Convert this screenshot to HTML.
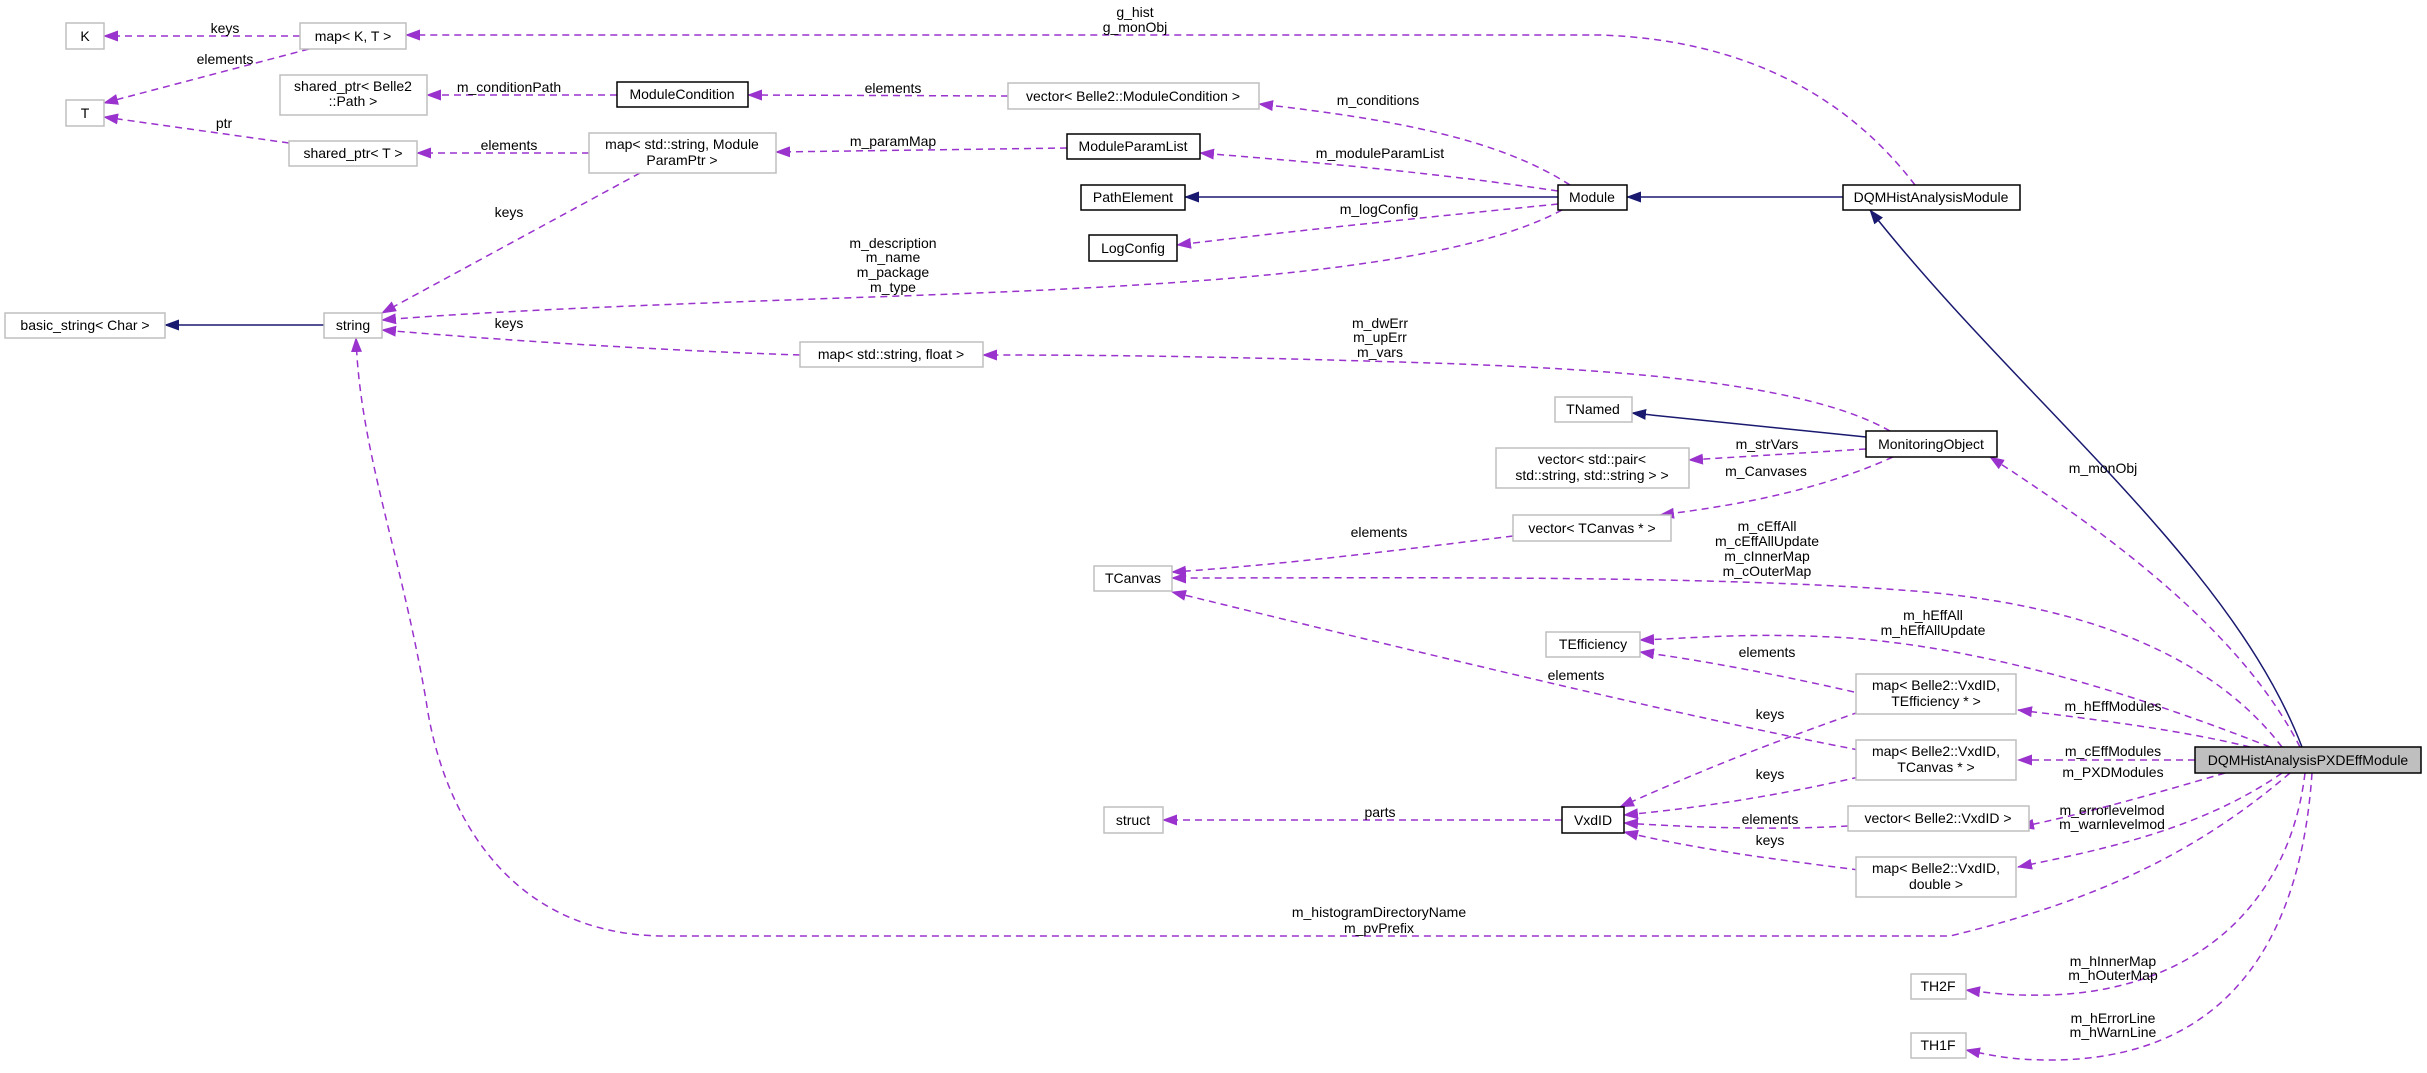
<!DOCTYPE html>
<html><head><meta charset="utf-8"><style>
html,body{margin:0;padding:0;background:#fff;}
svg{display:block;}
text{font-family:"Liberation Sans","DejaVu Sans",sans-serif;font-size:14px;fill:#000;}
.g{fill:#fff;stroke:#bfbfbf;stroke-width:1.5}
.b{fill:#fff;stroke:#000;stroke-width:1.5}
.p{fill:none;stroke:#9a32cd;stroke-width:1.5;stroke-dasharray:7,5;marker-end:url(#mp)}
.n{fill:none;stroke:#191970;stroke-width:1.5;marker-end:url(#mn)}
</style></head><body>
<svg width="2427" height="1073" viewBox="0 0 2427 1073" xmlns="http://www.w3.org/2000/svg">
<defs>
<marker id="mp" markerUnits="userSpaceOnUse" markerWidth="15" markerHeight="11" refX="14" refY="5.5" orient="auto"><path d="M0,0 L15,5.5 L0,11 z" fill="#9a32cd"/></marker>
<marker id="mn" markerUnits="userSpaceOnUse" markerWidth="15" markerHeight="11" refX="14" refY="5.5" orient="auto"><path d="M0,0 L15,5.5 L0,11 z" fill="#191970"/></marker>
</defs>

<!-- edges -->
<path class="p" d="M300,36 L104,36"/>
<path class="p" d="M309,49 L104,103"/>
<path class="p" d="M289,143 L104,117"/>
<path class="p" d="M617,95 L427,95"/>
<path class="p" d="M1008,96 L748,95"/>
<path class="p" d="M589,153 L417,153"/>
<path class="p" d="M1067,148 L776,152"/>
<path class="p" d="M640,173 L382,313"/>
<path class="n" d="M324,325 L165,325"/>
<path class="p" d="M800,355 C650,350 500,340 382,330"/>
<path class="p" d="M1570,185 C1500,140 1400,120 1259,104"/>
<path class="p" d="M1558,191 C1450,175 1350,165 1200,153"/>
<path class="n" d="M1558,197 L1185,197"/>
<path class="p" d="M1558,204 C1450,215 1300,230 1177,245"/>
<path class="p" d="M1562,210 C1450,270 1200,285 900,296 C700,303 500,310 382,320"/>
<path class="p" d="M1890,431 C1800,380 1600,368 1400,362 C1200,356 1100,355 983,355"/>
<path class="n" d="M1843,197 L1627,197"/>
<path class="p" d="M1915,185 C1850,100 1750,40 1600,35 L406,35"/>
<path class="n" d="M1866,437 L1632,413"/>
<path class="p" d="M1866,449 L1689,460"/>
<path class="p" d="M1893,457 C1820,490 1740,505 1660,515"/>
<path class="p" d="M1513,536 C1400,550 1280,565 1172,572"/>
<path class="p" d="M2300,747 C2250,650 2150,560 1990,457"/>
<path class="p" d="M2282,747 C2200,640 2050,600 1900,590 C1700,575 1400,578 1172,578"/>
<path class="p" d="M2270,747 C2150,700 2000,650 1850,638 C1750,632 1700,638 1640,640"/>
<path class="p" d="M1854,692 C1780,675 1700,660 1640,652"/>
<path class="p" d="M2250,747 C2180,730 2100,720 2018,710"/>
<path class="p" d="M2195,760 L2018,760"/>
<path class="p" d="M1859,750 C1700,720 1450,660 1172,592"/>
<path class="p" d="M1859,712 C1750,750 1680,780 1620,807"/>
<path class="p" d="M1859,777 C1780,795 1700,808 1624,815"/>
<path class="p" d="M1848,826 C1780,830 1700,828 1624,823"/>
<path class="p" d="M1859,870 C1780,860 1700,850 1624,832"/>
<path class="p" d="M1562,820 L1163,820"/>
<path class="p" d="M2225,773 C2150,795 2080,815 2020,827"/>
<path class="p" d="M2282,773 C2200,830 2100,850 2018,867"/>
<path class="p" d="M2290,773 C2200,850 2100,900 1950,936 L666,936 C500,936 440,800 426,700 C400,550 360,450 356,338"/>
<path class="p" d="M2305,773 C2290,900 2200,990 2050,995 C2010,996 1990,993 1966,990"/>
<path class="p" d="M2312,773 C2300,950 2220,1060 2050,1060 C2010,1060 1990,1055 1966,1050"/>
<path class="n" d="M2302,747 C2230,560 2020,400 1870,210"/>

<!-- nodes -->
<rect class="g" x="66" y="23" width="38" height="26"/><text x="85" y="41" text-anchor="middle">K</text>
<rect class="g" x="300" y="23" width="106" height="26"/><text x="353" y="41" text-anchor="middle">map&lt; K, T &gt;</text>
<rect class="g" x="66" y="100" width="38" height="26"/><text x="85" y="118" text-anchor="middle">T</text>
<rect class="g" x="280" y="75" width="147" height="40"/><text x="353" y="91" text-anchor="middle">shared_ptr&lt; Belle2</text><text x="353" y="106" text-anchor="middle">::Path &gt;</text>
<rect class="b" x="617" y="82" width="131" height="25"/><text x="682" y="99" text-anchor="middle">ModuleCondition</text>
<rect class="g" x="289" y="141" width="128" height="25"/><text x="353" y="158" text-anchor="middle">shared_ptr&lt; T &gt;</text>
<rect class="g" x="589" y="133" width="187" height="40"/><text x="682" y="149" text-anchor="middle">map&lt; std::string, Module</text><text x="682" y="165" text-anchor="middle">ParamPtr &gt;</text>
<rect class="g" x="5" y="313" width="160" height="25"/><text x="85" y="330" text-anchor="middle">basic_string&lt; Char &gt;</text>
<rect class="g" x="324" y="313" width="58" height="25"/><text x="353" y="330" text-anchor="middle">string</text>
<rect class="g" x="1008" y="83" width="251" height="26"/><text x="1133" y="101" text-anchor="middle">vector&lt; Belle2::ModuleCondition &gt;</text>
<rect class="b" x="1067" y="134" width="133" height="25"/><text x="1133" y="151" text-anchor="middle">ModuleParamList</text>
<rect class="b" x="1081" y="185" width="104" height="25"/><text x="1133" y="202" text-anchor="middle">PathElement</text>
<rect class="b" x="1089" y="235" width="88" height="26"/><text x="1133" y="253" text-anchor="middle">LogConfig</text>
<rect class="b" x="1558" y="185" width="69" height="25"/><text x="1592" y="202" text-anchor="middle">Module</text>
<rect class="b" x="1843" y="185" width="177" height="25"/><text x="1931" y="202" text-anchor="middle">DQMHistAnalysisModule</text>
<rect class="g" x="800" y="342" width="183" height="25"/><text x="891" y="359" text-anchor="middle">map&lt; std::string, float &gt;</text>
<rect class="g" x="1555" y="397" width="77" height="25"/><text x="1593" y="414" text-anchor="middle">TNamed</text>
<rect class="g" x="1496" y="448" width="193" height="40"/><text x="1592" y="464" text-anchor="middle">vector&lt; std::pair&lt;</text><text x="1592" y="480" text-anchor="middle">std::string, std::string &gt; &gt;</text>
<rect class="g" x="1513" y="515" width="158" height="26"/><text x="1592" y="533" text-anchor="middle">vector&lt; TCanvas * &gt;</text>
<rect class="b" x="1866" y="431" width="131" height="26"/><text x="1931" y="449" text-anchor="middle">MonitoringObject</text>
<rect class="g" x="1094" y="566" width="78" height="25"/><text x="1133" y="583" text-anchor="middle">TCanvas</text>
<rect class="g" x="1546" y="632" width="94" height="25"/><text x="1593" y="649" text-anchor="middle">TEfficiency</text>
<rect class="g" x="1856" y="674" width="160" height="40"/><text x="1936" y="690" text-anchor="middle">map&lt; Belle2::VxdID,</text><text x="1936" y="706" text-anchor="middle">TEfficiency * &gt;</text>
<rect class="g" x="1856" y="740" width="160" height="40"/><text x="1936" y="756" text-anchor="middle">map&lt; Belle2::VxdID,</text><text x="1936" y="772" text-anchor="middle">TCanvas * &gt;</text>
<rect class="g" x="1848" y="806" width="181" height="25"/><text x="1938" y="823" text-anchor="middle">vector&lt; Belle2::VxdID &gt;</text>
<rect class="g" x="1856" y="857" width="160" height="40"/><text x="1936" y="873" text-anchor="middle">map&lt; Belle2::VxdID,</text><text x="1936" y="889" text-anchor="middle">double &gt;</text>
<rect class="b" x="1562" y="807" width="62" height="26"/><text x="1593" y="825" text-anchor="middle">VxdID</text>
<rect class="g" x="1104" y="807" width="59" height="26"/><text x="1133" y="825" text-anchor="middle">struct</text>
<rect x="2195" y="747" width="226" height="26" fill="#bfbfbf" stroke="#000" stroke-width="1.5"/><text x="2308" y="765" text-anchor="middle">DQMHistAnalysisPXDEffModule</text>
<rect class="g" x="1911" y="974" width="55" height="25"/><text x="1938" y="991" text-anchor="middle">TH2F</text>
<rect class="g" x="1911" y="1033" width="55" height="25"/><text x="1938" y="1050" text-anchor="middle">TH1F</text>

<!-- labels -->
<g text-anchor="middle">
<text x="225" y="33">keys</text>
<text x="225" y="64">elements</text>
<text x="224" y="128">ptr</text>
<text x="509" y="92">m_conditionPath</text>
<text x="509" y="150">elements</text>
<text x="509" y="217">keys</text>
<text x="509" y="328">keys</text>
<text x="1135" y="17">g_hist</text>
<text x="1135" y="32">g_monObj</text>
<text x="893" y="93">elements</text>
<text x="1378" y="105">m_conditions</text>
<text x="893" y="146">m_paramMap</text>
<text x="1380" y="158">m_moduleParamList</text>
<text x="1379" y="214">m_logConfig</text>
<text x="893" y="248">m_description</text>
<text x="893" y="262">m_name</text>
<text x="893" y="277">m_package</text>
<text x="893" y="292">m_type</text>
<text x="1380" y="328">m_dwErr</text>
<text x="1380" y="342">m_upErr</text>
<text x="1380" y="357">m_vars</text>
<text x="1767" y="449">m_strVars</text>
<text x="1766" y="476">m_Canvases</text>
<text x="2103" y="473">m_monObj</text>
<text x="1379" y="537">elements</text>
<text x="1767" y="531">m_cEffAll</text>
<text x="1767" y="546">m_cEffAllUpdate</text>
<text x="1767" y="561">m_cInnerMap</text>
<text x="1767" y="576">m_cOuterMap</text>
<text x="1933" y="620">m_hEffAll</text>
<text x="1933" y="635">m_hEffAllUpdate</text>
<text x="1767" y="657">elements</text>
<text x="1576" y="680">elements</text>
<text x="1770" y="719">keys</text>
<text x="1770" y="779">keys</text>
<text x="1770" y="824">elements</text>
<text x="1770" y="845">keys</text>
<text x="1380" y="817">parts</text>
<text x="2113" y="711">m_hEffModules</text>
<text x="2113" y="756">m_cEffModules</text>
<text x="2113" y="777">m_PXDModules</text>
<text x="2112" y="815">m_errorlevelmod</text>
<text x="2112" y="829">m_warnlevelmod</text>
<text x="1379" y="917">m_histogramDirectoryName</text>
<text x="1379" y="933">m_pvPrefix</text>
<text x="2113" y="966">m_hInnerMap</text>
<text x="2113" y="980">m_hOuterMap</text>
<text x="2113" y="1023">m_hErrorLine</text>
<text x="2113" y="1037">m_hWarnLine</text>
</g>
</svg>
</body></html>
